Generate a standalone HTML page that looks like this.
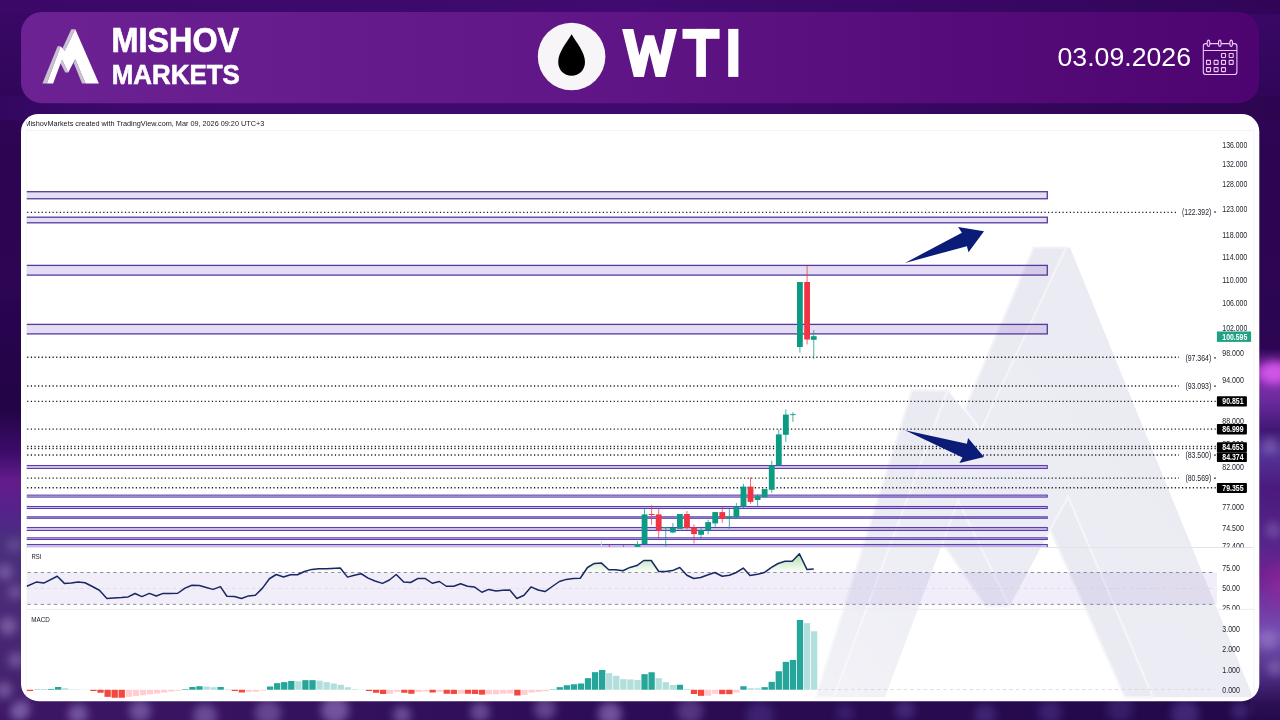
<!DOCTYPE html>
<html><head><meta charset="utf-8"><title>WTI</title>
<style>
html,body{margin:0;padding:0;}
body{width:1280px;height:720px;overflow:hidden;background:#2e0654;font-family:"Liberation Sans",sans-serif;}
svg{position:absolute;left:0;top:0;display:block;opacity:0.999;}
text{font-family:"Liberation Sans",sans-serif;}
</style></head><body>
<svg width="1280" height="720" viewBox="0 0 1280 720">
<defs>
<linearGradient id="bgTop" x1="0" y1="0" x2="1" y2="0"><stop offset="0" stop-color="#3b0868"/><stop offset="0.5" stop-color="#400a70"/><stop offset="1" stop-color="#300558"/></linearGradient>
<linearGradient id="bgGap" x1="0" y1="0" x2="1" y2="0"><stop offset="0" stop-color="#330760"/><stop offset="0.1" stop-color="#3c0a6c"/><stop offset="0.5" stop-color="#3f0a70"/><stop offset="0.85" stop-color="#320658"/><stop offset="1" stop-color="#2c0550"/></linearGradient>
<linearGradient id="bgV" x1="0" y1="0" x2="0" y2="1"><stop offset="0" stop-color="#3a0868"/><stop offset="0.2" stop-color="#2c0552"/><stop offset="0.5" stop-color="#2d0653"/><stop offset="1" stop-color="#2a0750"/></linearGradient>
<linearGradient id="hdr" x1="0" y1="0" x2="1" y2="0"><stop offset="0" stop-color="#6d2294"/><stop offset="0.45" stop-color="#601686"/><stop offset="1" stop-color="#4d0470"/></linearGradient>
<linearGradient id="rsiG" x1="0" y1="553" x2="0" y2="572.5" gradientUnits="userSpaceOnUse"><stop offset="0" stop-color="#7cc96a" stop-opacity="0.72"/><stop offset="1" stop-color="#a8dba0" stop-opacity="0.05"/></linearGradient>
<linearGradient id="wmFade" x1="800" y1="700" x2="1150" y2="380" gradientUnits="userSpaceOnUse"><stop offset="0" stop-color="#fff" stop-opacity="0.6"/><stop offset="0.45" stop-color="#fff" stop-opacity="0.92"/><stop offset="1" stop-color="#fff" stop-opacity="1"/></linearGradient>
<mask id="wmMask" maskUnits="userSpaceOnUse" x="700" y="200" width="600" height="520"><rect x="700" y="200" width="600" height="520" fill="url(#wmFade)"/></mask>
<linearGradient id="leftG" x1="0" y1="300" x2="0" y2="720" gradientUnits="userSpaceOnUse"><stop offset="0" stop-color="#290450"/><stop offset="0.26" stop-color="#230446"/><stop offset="0.36" stop-color="#3a0c68"/><stop offset="0.43" stop-color="#641c8c"/><stop offset="0.5" stop-color="#55228c"/><stop offset="0.58" stop-color="#48307c"/><stop offset="0.72" stop-color="#4c2a78"/><stop offset="0.95" stop-color="#43206c"/><stop offset="1" stop-color="#3d1766"/></linearGradient>
<linearGradient id="rightG" x1="0" y1="300" x2="0" y2="720" gradientUnits="userSpaceOnUse"><stop offset="0" stop-color="#2a0550"/><stop offset="0.115" stop-color="#2c0654"/><stop offset="0.17" stop-color="#8a30b2"/><stop offset="0.24" stop-color="#6a2a9c"/><stop offset="0.31" stop-color="#401874"/><stop offset="0.36" stop-color="#55349a"/><stop offset="0.45" stop-color="#4a1a7c"/><stop offset="0.58" stop-color="#55258a"/><stop offset="0.66" stop-color="#742292"/><stop offset="0.8" stop-color="#7550b4"/><stop offset="0.9" stop-color="#4a2a80"/><stop offset="0.96" stop-color="#2c1054"/><stop offset="1" stop-color="#240a4c"/></linearGradient>
<linearGradient id="botG" x1="0" y1="0" x2="1" y2="0"><stop offset="0" stop-color="#3d1766"/><stop offset="0.5" stop-color="#2c0c54"/><stop offset="1" stop-color="#22084a"/></linearGradient>
<filter id="blur8" x="-50%" y="-50%" width="200%" height="200%"><feGaussianBlur stdDeviation="8"/></filter>
<filter id="blur4" x="-50%" y="-50%" width="200%" height="200%"><feGaussianBlur stdDeviation="4"/></filter>
<filter id="blur14" x="-50%" y="-50%" width="200%" height="200%"><feGaussianBlur stdDeviation="14"/></filter>
<clipPath id="cardClip"><rect x="21" y="114" width="1238.3" height="587.2" rx="17.5" ry="17.5"/></clipPath>
<clipPath id="priceClip"><rect x="26.8" y="131" width="1229.2" height="416.3"/></clipPath>
<clipPath id="titleClip"><rect x="26.6" y="114" width="400" height="17"/></clipPath>
<clipPath id="rsiClip"><rect x="26" y="548" width="1230" height="61.4"/></clipPath>
<g id="logoMain"><polygon points="46.9,83.4 60.7,46.2 64.7,51.1 75.3,29.2 98.9,83.4 85.6,83.4 75.3,59.1 68.2,72.4 62,59.6 53.1,83.4"/></g>
<g id="logoShade"><polygon points="42.4,83.4 46.9,83.4 60.7,46.2 57.6,46.2"/><polygon points="71.3,29.2 75.3,29.2 64.7,51.1 62.4,48.4"/><polygon points="62,59.6 68.2,72.4 65.3,72.4 60.4,63.3"/><polygon points="75.3,59.1 85.6,83.4 82,83.4 73.7,63.1"/></g>
</defs>
<rect x="0" y="0" width="1280" height="720" fill="url(#bgV)"/>
<rect x="0" y="0" width="1280" height="14" fill="url(#bgTop)"/>
<rect x="0" y="96" width="1280" height="24" fill="url(#bgGap)"/>
<g id="bokeh">
<rect x="0" y="698" width="1280" height="22" fill="url(#botG)"/>
<rect x="-10" y="300" width="40" height="430" fill="url(#leftG)"/>
<circle cx="14" cy="545" r="7" fill="#a58ccb" opacity="0.30" filter="url(#blur4)"/>
<circle cx="5" cy="572" r="8" fill="#a58ccb" opacity="0.45" filter="url(#blur4)"/>
<circle cx="15" cy="592" r="7" fill="#a58ccb" opacity="0.40" filter="url(#blur4)"/>
<circle cx="8" cy="626" r="9" fill="#a58ccb" opacity="0.50" filter="url(#blur4)"/>
<circle cx="16" cy="660" r="8" fill="#a58ccb" opacity="0.45" filter="url(#blur4)"/>
<circle cx="4" cy="690" r="8" fill="#a58ccb" opacity="0.50" filter="url(#blur4)"/>
<circle cx="18" cy="713" r="8" fill="#a58ccb" opacity="0.45" filter="url(#blur4)"/>
<rect x="1250" y="300" width="40" height="430" fill="url(#rightG)"/>
<ellipse cx="1274" cy="373" rx="15" ry="11" fill="#d055e6" filter="url(#blur4)"/>
<ellipse cx="1282" cy="585" rx="9" ry="20" fill="#a02aa0" filter="url(#blur8)" opacity="0.6"/>
<circle cx="1270" cy="446" r="8" fill="#a58ccb" opacity="0.40" filter="url(#blur4)"/>
<circle cx="1273" cy="530" r="8" fill="#a58ccb" opacity="0.35" filter="url(#blur4)"/>
<circle cx="1268" cy="640" r="10" fill="#a58ccb" opacity="0.45" filter="url(#blur4)"/>
<circle cx="1275" cy="668" r="8" fill="#a58ccb" opacity="0.40" filter="url(#blur4)"/>
<circle cx="22" cy="709" r="9" fill="#8d6fb8" opacity="0.55" filter="url(#blur4)"/>
<circle cx="78" cy="714" r="10" fill="#8d6fb8" opacity="0.70" filter="url(#blur4)"/>
<circle cx="140" cy="711" r="11" fill="#8d6fb8" opacity="0.65" filter="url(#blur4)"/>
<circle cx="205" cy="716" r="12" fill="#8d6fb8" opacity="0.60" filter="url(#blur4)"/>
<circle cx="268" cy="713" r="13" fill="#8d6fb8" opacity="0.55" filter="url(#blur4)"/>
<circle cx="335" cy="710" r="14" fill="#8d6fb8" opacity="0.70" filter="url(#blur4)"/>
<circle cx="402" cy="715" r="9" fill="#8d6fb8" opacity="0.65" filter="url(#blur4)"/>
<circle cx="480" cy="712" r="10" fill="#8d6fb8" opacity="0.60" filter="url(#blur4)"/>
<circle cx="545" cy="709" r="11" fill="#8d6fb8" opacity="0.55" filter="url(#blur4)"/>
<circle cx="610" cy="714" r="12" fill="#8d6fb8" opacity="0.70" filter="url(#blur4)"/>
<circle cx="690" cy="711" r="13" fill="#8d6fb8" opacity="0.42" filter="url(#blur4)"/>
<circle cx="760" cy="716" r="14" fill="#5f4aa6" opacity="0.37" filter="url(#blur4)"/>
<circle cx="845" cy="713" r="9" fill="#5f4aa6" opacity="0.32" filter="url(#blur4)"/>
<circle cx="905" cy="710" r="10" fill="#5f4aa6" opacity="0.47" filter="url(#blur4)"/>
<circle cx="985" cy="715" r="11" fill="#5f4aa6" opacity="0.42" filter="url(#blur4)"/>
<circle cx="1050" cy="712" r="12" fill="#5f4aa6" opacity="0.37" filter="url(#blur4)"/>
<circle cx="1120" cy="709" r="13" fill="#5f4aa6" opacity="0.32" filter="url(#blur4)"/>
<circle cx="1185" cy="714" r="14" fill="#5f4aa6" opacity="0.47" filter="url(#blur4)"/>
<circle cx="1240" cy="711" r="9" fill="#5f4aa6" opacity="0.42" filter="url(#blur4)"/>
</g>
<rect x="21" y="12" width="1238" height="91.2" rx="21" ry="21" fill="url(#hdr)"/>
<use href="#logoShade" fill="#c7c2ce"/>
<use href="#logoMain" fill="#ffffff"/>
<text x="111.6" y="52" font-size="34.2" font-weight="bold" fill="#fff" stroke="#fff" stroke-width="0.7" textLength="127.6" lengthAdjust="spacingAndGlyphs">MISHOV</text>
<text x="111.8" y="83.8" font-size="27" font-weight="bold" fill="#fff" stroke="#fff" stroke-width="0.6" textLength="128" lengthAdjust="spacingAndGlyphs">MARKETS</text>
<circle cx="571.6" cy="56.5" r="33.8" fill="#f7f5f7"/>
<path d="M571.6 34.2 C 576 42, 585 52, 585 62 C 585 70, 579 75.8, 571.6 75.8 C 564.2 75.8, 558.2 70, 558.2 62 C 558.2 52, 567.2 42, 571.6 34.2 Z" fill="#000"/>
<g fill="#fff">
<polygon points="622.1,28.9 633.3,28.9 639.4,55.5 645,35.2 654.1,35.2 660.2,55.5 665.8,28.9 677,28.9 665.3,76.9 655.6,76.9 649.5,52.5 643.9,76.9 633.8,76.9"/>
<rect x="682.5" y="28.9" width="37.1" height="9.9"/><rect x="696.25" y="28.9" width="9.65" height="48"/>
<rect x="728.2" y="28.9" width="10.2" height="48"/>
</g>
<text x="1057.5" y="65.6" font-size="26" fill="#fff" textLength="133.5" lengthAdjust="spacingAndGlyphs">03.09.2026</text>
<g fill="none" stroke="#ecc9f7" stroke-width="1.1">
<rect x="1203.3" y="43.6" width="33.6" height="30.9" rx="2.6"/>
<line x1="1203.3" y1="50.5" x2="1236.9" y2="50.5"/>
<ellipse cx="1208.5" cy="43.3" rx="1.35" ry="3.2" fill="#5a0e7c"/>
<ellipse cx="1219.8" cy="43.3" rx="1.35" ry="3.2" fill="#5a0e7c"/>
<ellipse cx="1231.2" cy="43.3" rx="1.35" ry="3.2" fill="#5a0e7c"/>
<rect x="1221.5" y="53.5" width="4" height="4" rx="0.5"/>
<rect x="1229.2" y="53.5" width="4" height="4" rx="0.5"/>
<rect x="1206.5" y="60.4" width="4" height="4" rx="0.5"/>
<rect x="1214.1" y="60.4" width="4" height="4" rx="0.5"/>
<rect x="1221.5" y="60.4" width="4" height="4" rx="0.5"/>
<rect x="1229.2" y="60.4" width="4" height="4" rx="0.5"/>
<rect x="1206.5" y="67.6" width="4" height="4" rx="0.5"/>
<rect x="1214.1" y="67.6" width="4" height="4" rx="0.5"/>
<rect x="1221.5" y="67.6" width="4" height="4" rx="0.5"/>
</g>
<rect x="21" y="114" width="1238.3" height="587.2" rx="17.5" ry="17.5" fill="#ffffff"/>
<g clip-path="url(#cardClip)">
<g stroke-width="1" fill="none">
<line x1="26.5" y1="130.5" x2="1254" y2="130.5" stroke="#f3f3f5"/>
<line x1="26.5" y1="130.5" x2="26.5" y2="700" stroke="#f7f7f9"/>
<line x1="1254" y1="130.5" x2="1254" y2="700" stroke="#f5f5f7"/>
</g>
<g mask="url(#wmMask)">
<polygon fill="#ebebf3" points="833.7,697.2 947.6,390.3 980.6,430.7 1066,247.5 1070,247.5 1253,697.2 1153,697.2 1068,496.7 1009.4,606.4 958.3,500.8 884.9,697.2"/>
<g fill="#e9e9f2" stroke="#f3f3f9" stroke-width="2.2">
<polygon points="816,697.2 833.7,697.2 947.6,390.3 912,390.3"/>
<polygon points="1033.75,247.5 1066,247.5 980.6,430.7 965,408.4"/>
<polygon points="958.3,500.8 1009.4,606.4 986,606.4 942.5,543"/>
<polygon points="1068,496.7 1153,697.2 1125,697.2 1050.2,530"/>
</g>
</g>
<text clip-path="url(#titleClip)" x="24.4" y="126" font-size="8" fill="#131722" textLength="239.8" lengthAdjust="spacingAndGlyphs">MishovMarkets created with TradingView.com, Mar 09, 2026 09:20 UTC+3</text>
<g clip-path="url(#priceClip)">
<rect x="20" y="191.7" width="1027.3" height="7.05" fill="#7e57c2" fill-opacity="0.2" stroke="#563a9c" stroke-width="1.3"/>
<rect x="20" y="217.2" width="1027.3" height="5.6" fill="#7e57c2" fill-opacity="0.2" stroke="#563a9c" stroke-width="1.3"/>
<rect x="20" y="265.4" width="1027.3" height="9.7" fill="#7e57c2" fill-opacity="0.2" stroke="#563a9c" stroke-width="1.3"/>
<rect x="20" y="324.4" width="1027.3" height="9.5" fill="#7e57c2" fill-opacity="0.2" stroke="#563a9c" stroke-width="1.3"/>
<rect x="20" y="465.5" width="1027.3" height="3" fill="#7e57c2" fill-opacity="0.38" stroke="#5b3fb2" stroke-width="1.05"/>
<rect x="20" y="495.1" width="1027.3" height="2" fill="#7e57c2" fill-opacity="0.38" stroke="#5b3fb2" stroke-width="1.05"/>
<rect x="20" y="506.5" width="1027.3" height="2" fill="#7e57c2" fill-opacity="0.38" stroke="#5b3fb2" stroke-width="1.05"/>
<rect x="20" y="516.8" width="1027.3" height="1.5" fill="#7e57c2" fill-opacity="0.38" stroke="#5b3fb2" stroke-width="1.05"/>
<rect x="20" y="527.5" width="1027.3" height="3" fill="#7e57c2" fill-opacity="0.38" stroke="#5b3fb2" stroke-width="1.05"/>
<rect x="20" y="537.8" width="1027.3" height="1.7" fill="#7e57c2" fill-opacity="0.38" stroke="#5b3fb2" stroke-width="1.05"/>
<rect x="20" y="544.5" width="1027.3" height="3" fill="#7e57c2" fill-opacity="0.38" stroke="#5b3fb2" stroke-width="1.05"/>
<line x1="27.2" y1="212.3" x2="1176" y2="212.3" stroke="#1a1a1a" stroke-width="1.35" stroke-dasharray="1.2 2.42"/>
<line x1="27.2" y1="357.25" x2="1179" y2="357.25" stroke="#1a1a1a" stroke-width="1.35" stroke-dasharray="1.2 2.42"/>
<line x1="27.2" y1="386" x2="1179" y2="386" stroke="#1a1a1a" stroke-width="1.35" stroke-dasharray="1.2 2.42"/>
<line x1="27.2" y1="401.3" x2="1216" y2="401.3" stroke="#1a1a1a" stroke-width="1.35" stroke-dasharray="1.2 2.42"/>
<line x1="27.2" y1="429.1" x2="1216" y2="429.1" stroke="#1a1a1a" stroke-width="1.35" stroke-dasharray="1.2 2.42"/>
<line x1="27.2" y1="446.5" x2="1216" y2="446.5" stroke="#1a1a1a" stroke-width="1.35" stroke-dasharray="1.2 2.42"/>
<line x1="27.2" y1="448.6" x2="1216" y2="448.6" stroke="#1a1a1a" stroke-width="1.35" stroke-dasharray="1.2 2.42"/>
<line x1="27.2" y1="455" x2="1179" y2="455" stroke="#1a1a1a" stroke-width="1.35" stroke-dasharray="1.2 2.42"/>
<line x1="27.2" y1="478.1" x2="1179" y2="478.1" stroke="#1a1a1a" stroke-width="1.35" stroke-dasharray="1.2 2.42"/>
<line x1="27.2" y1="487.75" x2="1216" y2="487.75" stroke="#1a1a1a" stroke-width="1.35" stroke-dasharray="1.2 2.42"/>
<line x1="637.49" y1="541" x2="637.49" y2="546.8" stroke="#0c9a82" stroke-width="0.75"/>
<rect x="634.59" y="544" width="5.8" height="2.8" fill="#0c9a82"/>
<line x1="644.56" y1="509" x2="644.56" y2="544" stroke="#0c9a82" stroke-width="0.75"/>
<rect x="641.66" y="514.4" width="5.8" height="29.6" fill="#0c9a82"/>
<line x1="651.62" y1="505.2" x2="651.62" y2="524.8" stroke="#f03446" stroke-width="0.75"/>
<rect x="648.72" y="514" width="5.8" height="1" fill="#f03446"/>
<line x1="658.69" y1="509" x2="658.69" y2="538.8" stroke="#f03446" stroke-width="0.75"/>
<rect x="655.79" y="514.4" width="5.8" height="16.2" fill="#f03446"/>
<line x1="665.75" y1="527.2" x2="665.75" y2="546.6" stroke="#0c9a82" stroke-width="0.75"/>
<rect x="662.85" y="527.2" width="5.8" height="0.9" fill="#0c9a82"/>
<line x1="672.82" y1="523.1" x2="672.82" y2="533.2" stroke="#0c9a82" stroke-width="0.75"/>
<rect x="669.92" y="527.9" width="5.8" height="4.6" fill="#0c9a82"/>
<line x1="679.88" y1="514" x2="679.88" y2="528.8" stroke="#0c9a82" stroke-width="0.75"/>
<rect x="676.98" y="514" width="5.8" height="14.8" fill="#0c9a82"/>
<line x1="686.95" y1="511" x2="686.95" y2="529.4" stroke="#f03446" stroke-width="0.75"/>
<rect x="684.05" y="514" width="5.8" height="13.9" fill="#f03446"/>
<line x1="694.01" y1="524.4" x2="694.01" y2="543.5" stroke="#f03446" stroke-width="0.75"/>
<rect x="691.11" y="527.5" width="5.8" height="6.6" fill="#f03446"/>
<line x1="701.08" y1="527.5" x2="701.08" y2="539" stroke="#0c9a82" stroke-width="0.75"/>
<rect x="698.18" y="530.2" width="5.8" height="4.6" fill="#0c9a82"/>
<line x1="708.14" y1="519.8" x2="708.14" y2="534.4" stroke="#0c9a82" stroke-width="0.75"/>
<rect x="705.24" y="522.1" width="5.8" height="8.1" fill="#0c9a82"/>
<line x1="715.21" y1="512.1" x2="715.21" y2="526.9" stroke="#0c9a82" stroke-width="0.75"/>
<rect x="712.31" y="512.1" width="5.8" height="11.3" fill="#0c9a82"/>
<line x1="722.27" y1="506.5" x2="722.27" y2="522.9" stroke="#f03446" stroke-width="0.75"/>
<rect x="719.37" y="512.1" width="5.8" height="6.7" fill="#f03446"/>
<line x1="729.34" y1="508.8" x2="729.34" y2="528.8" stroke="#0c9a82" stroke-width="0.75"/>
<rect x="726.44" y="516.9" width="5.8" height="1.6" fill="#0c9a82"/>
<line x1="736.4" y1="503.1" x2="736.4" y2="518.5" stroke="#0c9a82" stroke-width="0.75"/>
<rect x="733.5" y="506.5" width="5.8" height="11" fill="#0c9a82"/>
<line x1="743.47" y1="483.8" x2="743.47" y2="508.1" stroke="#0c9a82" stroke-width="0.75"/>
<rect x="740.57" y="486.6" width="5.8" height="19.9" fill="#0c9a82"/>
<line x1="750.53" y1="477.5" x2="750.53" y2="503.8" stroke="#f03446" stroke-width="0.75"/>
<rect x="747.63" y="486.6" width="5.8" height="15.3" fill="#f03446"/>
<line x1="757.6" y1="494.4" x2="757.6" y2="506.2" stroke="#0c9a82" stroke-width="0.75"/>
<rect x="754.7" y="496.2" width="5.8" height="3.8" fill="#0c9a82"/>
<line x1="764.66" y1="489.1" x2="764.66" y2="497.1" stroke="#0c9a82" stroke-width="0.75"/>
<rect x="761.76" y="489.1" width="5.8" height="8" fill="#0c9a82"/>
<line x1="771.73" y1="460.6" x2="771.73" y2="492.8" stroke="#0c9a82" stroke-width="0.75"/>
<rect x="768.83" y="465.6" width="5.8" height="24.2" fill="#0c9a82"/>
<line x1="778.79" y1="429.4" x2="778.79" y2="465.4" stroke="#0c9a82" stroke-width="0.75"/>
<rect x="775.89" y="434.4" width="5.8" height="31" fill="#0c9a82"/>
<line x1="785.86" y1="409.4" x2="785.86" y2="441.9" stroke="#0c9a82" stroke-width="0.75"/>
<rect x="782.96" y="414.6" width="5.8" height="20.2" fill="#0c9a82"/>
<line x1="792.92" y1="412.2" x2="792.92" y2="421.9" stroke="#0c9a82" stroke-width="0.75"/>
<rect x="790.02" y="414.2" width="5.8" height="0.9" fill="#0c9a82"/>
<line x1="799.9" y1="282" x2="799.9" y2="352.5" stroke="#0c9a82" stroke-width="0.75"/>
<rect x="797" y="282" width="5.8" height="65" fill="#0c9a82"/>
<line x1="807.1" y1="265.8" x2="807.1" y2="344.5" stroke="#f03446" stroke-width="0.75"/>
<rect x="804.2" y="282" width="5.8" height="57.5" fill="#f03446"/>
<line x1="813.75" y1="330" x2="813.75" y2="358.8" stroke="#0c9a82" stroke-width="0.75"/>
<rect x="810.85" y="336.2" width="5.8" height="3.6" fill="#0c9a82"/>
<line x1="601.3" y1="541" x2="601.3" y2="546.5" stroke="#bfe3d8" stroke-width="1"/>
<line x1="609.4" y1="545.3" x2="609.4" y2="547" stroke="#f03446" stroke-width="1"/>
<line x1="623.6" y1="545.3" x2="623.6" y2="547" stroke="#7b5ab0" stroke-width="1"/>
</g>
<polygon points="905,262.9 961.9,232.75 958.1,227.1 984,231.25 968.5,252.25 966.9,246.25" fill="#0b1b78"/>
<polygon points="905,430.25 966.9,443.75 968.1,437.9 984,456.9 959.4,462.9 962.5,457.5" fill="#0b1b78"/>
<line x1="26.5" y1="547.5" x2="1254" y2="547.5" stroke="#e3e3ea" stroke-width="1"/>
<line x1="26.5" y1="609.4" x2="1254" y2="609.4" stroke="#ededf1" stroke-width="1"/>
<rect x="27" y="572.5" width="1190" height="31.9" fill="#7e57c2" fill-opacity="0.105"/>
<g stroke-dasharray="3.3 3.3" stroke-width="0.9" fill="none">
<line x1="27.5" y1="572.5" x2="1215.5" y2="572.5" stroke="#828294"/>
<line x1="27.5" y1="604.4" x2="1215.5" y2="604.4" stroke="#828294"/>
<line x1="27.5" y1="588.5" x2="1215.5" y2="588.5" stroke="#c9c6d6" stroke-opacity="0.45"/>
</g>
<polygon points="26.9,572.5 36.25,572.5 43.75,572.5 57.25,572.5 64.4,572.5 71.25,572.5 78.1,572.5 85,572.5 91.9,572.5 99.4,572.5 106.9,572.5 113.75,572.5 121.25,572.5 128.1,572.5 135,572.5 141.9,572.5 149.4,572.5 156.25,572.5 163.1,572.5 170,572.5 177.75,572.5 185,572.5 191.9,572.5 199.4,572.5 206.25,572.5 213.1,572.5 220.4,572.5 226.9,572.5 234.4,572.5 241.5,572.5 248.5,572.5 255.4,572.5 262.5,572.5 269.4,572.5 276.25,572.5 283.5,572.5 290.6,572.5 297.5,572.5 304.4,571.5 311.9,569.4 318.75,568.75 326.25,568.75 340.25,568 347.5,572.5 354.4,572.5 361.25,572.5 368.1,572.5 375,572.5 382.5,572.5 389.4,572.5 396.25,572.5 403.75,572.5 410.6,572.5 418.1,572.5 425,572.5 432.25,572.5 439.4,572.5 446.25,572.5 453.75,572.5 460.6,572.5 467.5,572.5 474.6,572.5 481.9,572.5 488.75,572.5 496,572.5 502.75,572.5 509.75,572.5 516.9,572.5 524,572.5 531,572.5 538.1,572.5 545,572.5 552.25,572.5 559.4,572.5 566.25,572.5 573.1,572.5 580.25,572.5 587.5,567.5 594.4,563.4 601.5,563.1 608.75,569.75 615.6,569.75 622.9,570.8 630,567.4 636.9,565.6 643.75,560.5 651.25,560.5 658.75,571.5 665.6,571.5 672.5,570.6 679.75,567.5 686.9,572.5 693.75,572.5 700.6,572.5 707.5,572.5 714.75,572.5 722.25,572.5 729.4,572.5 736.25,572.5 743.3,568.1 750,572.5 757.5,572.5 764.2,572.5 771.5,567.4 778.1,563.5 785,561.25 792.25,561.25 799.4,553.75 806.9,569.4 813.75,569.1 813.75,572.5 26.9,572.5" fill="url(#rsiG)"/>
<polyline points="26.9,586.25 36.25,582.1 43.75,583.1 57.25,576.25 64.4,583.4 71.25,583.1 78.1,582 85,582.75 91.9,586.25 99.4,590.25 106.9,598.4 113.75,597.9 121.25,597.5 128.1,596.9 135,593.5 141.9,596.6 149.4,593.4 156.25,596 163.1,593.4 170,593.4 177.75,593.25 185,588.1 191.9,585.25 199.4,585.5 206.25,587.5 213.1,589.4 220.4,586.6 226.9,596.25 234.4,596.5 241.5,598.5 248.5,595.9 255.4,595.25 262.5,588.1 269.4,578.75 276.25,574.5 283.5,577 290.6,574.75 297.5,574.75 304.4,571.5 311.9,569.4 318.75,568.75 326.25,568.75 340.25,568 347.5,577.1 354.4,575.25 361.25,573.75 368.1,578.1 375,581 382.5,583.4 389.4,580 396.25,574.5 403.75,582 410.6,582.5 418.1,578.4 425,578.4 432.25,583.25 439.4,581.5 446.25,586.25 453.75,586.25 460.6,583.75 467.5,586.25 474.6,587.1 481.9,592.25 488.75,589.4 496,591 502.75,590.25 509.75,590 516.9,598.5 524,595.25 531,586.9 538.1,590 545,591.6 552.25,586.5 559.4,581.5 566.25,579.4 573.1,578.5 580.25,578.25 587.5,567.5 594.4,563.4 601.5,563.1 608.75,569.75 615.6,569.75 622.9,570.8 630,567.4 636.9,565.6 643.75,560.5 651.25,560.5 658.75,571.5 665.6,571.5 672.5,570.6 679.75,567.5 686.9,575.25 693.75,578.5 700.6,577.5 707.5,575 714.75,572.5 722.25,576.25 729.4,575.25 736.25,572.5 743.3,568.1 750,575.4 757.5,574.2 764.2,572.6 771.5,567.4 778.1,563.5 785,561.25 792.25,561.25 799.4,553.75 806.9,569.4 813.75,569.1" fill="none" stroke="#182862" stroke-width="1.5" stroke-linejoin="round"/>
<text x="31.4" y="559.3" font-size="6.9" fill="#131722" textLength="10" lengthAdjust="spacingAndGlyphs">RSI</text>
<text x="31.2" y="621.6" font-size="6.9" fill="#131722" textLength="18.6" lengthAdjust="spacingAndGlyphs">MACD</text>
<rect x="26.75" y="689.75" width="6.3" height="1.3" fill="#f4483f"/>
<rect x="33.81" y="689.45" width="6.3" height="0.3" fill="#26a69a"/>
<rect x="40.88" y="689.45" width="6.3" height="0.3" fill="#26a69a"/>
<rect x="47.95" y="688.95" width="6.3" height="0.8" fill="#26a69a"/>
<rect x="55.01" y="687" width="6.3" height="2.75" fill="#26a69a"/>
<rect x="62.07" y="688.25" width="6.3" height="1.5" fill="#b2dfdb"/>
<rect x="69.14" y="689.35" width="6.3" height="0.4" fill="#b2dfdb"/>
<rect x="76.2" y="689.45" width="6.3" height="0.3" fill="#b2dfdb"/>
<rect x="83.27" y="689.55" width="6.3" height="0.2" fill="#b2dfdb"/>
<rect x="90.33" y="689.75" width="6.3" height="1.25" fill="#f4483f"/>
<rect x="97.4" y="689.75" width="6.3" height="3" fill="#f4483f"/>
<rect x="104.47" y="689.75" width="6.3" height="7.1" fill="#f4483f"/>
<rect x="111.53" y="689.75" width="6.3" height="8" fill="#f4483f"/>
<rect x="118.59" y="689.75" width="6.3" height="8" fill="#f4483f"/>
<rect x="125.66" y="689.75" width="6.3" height="7.1" fill="#ffcdd2"/>
<rect x="132.72" y="689.75" width="6.3" height="6.25" fill="#ffcdd2"/>
<rect x="139.79" y="689.75" width="6.3" height="5.5" fill="#ffcdd2"/>
<rect x="146.85" y="689.75" width="6.3" height="4.6" fill="#ffcdd2"/>
<rect x="153.92" y="689.75" width="6.3" height="3.75" fill="#ffcdd2"/>
<rect x="160.99" y="689.75" width="6.3" height="2.75" fill="#ffcdd2"/>
<rect x="168.05" y="689.75" width="6.3" height="1.75" fill="#ffcdd2"/>
<rect x="175.12" y="689.75" width="6.3" height="1" fill="#ffcdd2"/>
<rect x="182.18" y="689.15" width="6.3" height="0.6" fill="#26a69a"/>
<rect x="189.25" y="687" width="6.3" height="2.75" fill="#26a69a"/>
<rect x="196.31" y="686.25" width="6.3" height="3.5" fill="#26a69a"/>
<rect x="203.38" y="686.5" width="6.3" height="3.25" fill="#b2dfdb"/>
<rect x="210.44" y="687.25" width="6.3" height="2.5" fill="#b2dfdb"/>
<rect x="217.51" y="687" width="6.3" height="2.75" fill="#26a69a"/>
<rect x="224.57" y="689.25" width="6.3" height="0.5" fill="#b2dfdb"/>
<rect x="231.64" y="689.75" width="6.3" height="1.25" fill="#f4483f"/>
<rect x="238.7" y="689.75" width="6.3" height="2.75" fill="#f4483f"/>
<rect x="245.77" y="689.75" width="6.3" height="2.1" fill="#ffcdd2"/>
<rect x="252.83" y="689.75" width="6.3" height="2" fill="#ffcdd2"/>
<rect x="259.9" y="689.75" width="6.3" height="0.9" fill="#ffcdd2"/>
<rect x="266.96" y="686.5" width="6.3" height="3.25" fill="#26a69a"/>
<rect x="274.03" y="683.15" width="6.3" height="6.6" fill="#26a69a"/>
<rect x="281.09" y="682.15" width="6.3" height="7.6" fill="#26a69a"/>
<rect x="288.16" y="681" width="6.3" height="8.75" fill="#26a69a"/>
<rect x="295.22" y="681.25" width="6.3" height="8.5" fill="#b2dfdb"/>
<rect x="302.29" y="680.15" width="6.3" height="9.6" fill="#26a69a"/>
<rect x="309.35" y="680.15" width="6.3" height="9.6" fill="#26a69a"/>
<rect x="316.42" y="680.65" width="6.3" height="9.1" fill="#b2dfdb"/>
<rect x="323.48" y="682.15" width="6.3" height="7.6" fill="#b2dfdb"/>
<rect x="330.55" y="683.5" width="6.3" height="6.25" fill="#b2dfdb"/>
<rect x="337.61" y="684.75" width="6.3" height="5" fill="#b2dfdb"/>
<rect x="344.68" y="687.25" width="6.3" height="2.5" fill="#b2dfdb"/>
<rect x="351.74" y="689.15" width="6.3" height="0.6" fill="#b2dfdb"/>
<rect x="358.81" y="689.55" width="6.3" height="0.2" fill="#b2dfdb"/>
<rect x="365.87" y="689.75" width="6.3" height="1.25" fill="#f4483f"/>
<rect x="372.94" y="689.75" width="6.3" height="3" fill="#f4483f"/>
<rect x="380" y="689.75" width="6.3" height="4.25" fill="#f4483f"/>
<rect x="387.06" y="689.75" width="6.3" height="4" fill="#ffcdd2"/>
<rect x="394.13" y="689.75" width="6.3" height="2.1" fill="#ffcdd2"/>
<rect x="401.19" y="689.75" width="6.3" height="3" fill="#f4483f"/>
<rect x="408.26" y="689.75" width="6.3" height="4" fill="#f4483f"/>
<rect x="415.33" y="689.75" width="6.3" height="2.25" fill="#ffcdd2"/>
<rect x="422.39" y="689.75" width="6.3" height="1.75" fill="#ffcdd2"/>
<rect x="429.46" y="689.75" width="6.3" height="2.75" fill="#f4483f"/>
<rect x="436.52" y="689.75" width="6.3" height="2.1" fill="#ffcdd2"/>
<rect x="443.59" y="689.75" width="6.3" height="4" fill="#f4483f"/>
<rect x="450.65" y="689.75" width="6.3" height="4.25" fill="#f4483f"/>
<rect x="457.72" y="689.75" width="6.3" height="4" fill="#ffcdd2"/>
<rect x="464.78" y="689.75" width="6.3" height="4" fill="#f4483f"/>
<rect x="471.85" y="689.75" width="6.3" height="4.25" fill="#f4483f"/>
<rect x="478.91" y="689.75" width="6.3" height="4.9" fill="#f4483f"/>
<rect x="485.98" y="689.75" width="6.3" height="4.6" fill="#ffcdd2"/>
<rect x="493.04" y="689.75" width="6.3" height="4.6" fill="#ffcdd2"/>
<rect x="500.11" y="689.75" width="6.3" height="4" fill="#ffcdd2"/>
<rect x="507.17" y="689.75" width="6.3" height="3.75" fill="#ffcdd2"/>
<rect x="514.24" y="689.75" width="6.3" height="5.75" fill="#f4483f"/>
<rect x="521.3" y="689.75" width="6.3" height="5.25" fill="#ffcdd2"/>
<rect x="528.37" y="689.75" width="6.3" height="2.75" fill="#ffcdd2"/>
<rect x="535.43" y="689.75" width="6.3" height="2.1" fill="#ffcdd2"/>
<rect x="542.5" y="689.75" width="6.3" height="1.5" fill="#ffcdd2"/>
<rect x="549.56" y="689.35" width="6.3" height="0.4" fill="#26a69a"/>
<rect x="556.62" y="687.15" width="6.3" height="2.6" fill="#26a69a"/>
<rect x="563.69" y="685.25" width="6.3" height="4.5" fill="#26a69a"/>
<rect x="570.75" y="684.25" width="6.3" height="5.5" fill="#26a69a"/>
<rect x="577.82" y="683.5" width="6.3" height="6.25" fill="#26a69a"/>
<rect x="584.88" y="678.15" width="6.3" height="11.6" fill="#26a69a"/>
<rect x="591.95" y="672.15" width="6.3" height="17.6" fill="#26a69a"/>
<rect x="599.01" y="670" width="6.3" height="19.75" fill="#26a69a"/>
<rect x="606.08" y="673.15" width="6.3" height="16.6" fill="#b2dfdb"/>
<rect x="613.14" y="675.85" width="6.3" height="13.9" fill="#b2dfdb"/>
<rect x="620.21" y="679.15" width="6.3" height="10.6" fill="#b2dfdb"/>
<rect x="627.27" y="679.45" width="6.3" height="10.3" fill="#b2dfdb"/>
<rect x="634.34" y="680" width="6.3" height="9.75" fill="#b2dfdb"/>
<rect x="641.41" y="674.15" width="6.3" height="15.6" fill="#26a69a"/>
<rect x="648.47" y="672.25" width="6.3" height="17.5" fill="#26a69a"/>
<rect x="655.54" y="678.15" width="6.3" height="11.6" fill="#b2dfdb"/>
<rect x="662.6" y="682.15" width="6.3" height="7.6" fill="#b2dfdb"/>
<rect x="669.67" y="685" width="6.3" height="4.75" fill="#b2dfdb"/>
<rect x="676.73" y="684.75" width="6.3" height="5" fill="#26a69a"/>
<rect x="683.8" y="689" width="6.3" height="0.75" fill="#b2dfdb"/>
<rect x="690.86" y="689.75" width="6.3" height="4.25" fill="#f4483f"/>
<rect x="697.93" y="689.75" width="6.3" height="6.1" fill="#f4483f"/>
<rect x="704.99" y="689.75" width="6.3" height="5.9" fill="#ffcdd2"/>
<rect x="712.06" y="689.75" width="6.3" height="4" fill="#ffcdd2"/>
<rect x="719.12" y="689.75" width="6.3" height="4.4" fill="#f4483f"/>
<rect x="726.19" y="689.75" width="6.3" height="4.4" fill="#f4483f"/>
<rect x="733.25" y="689.75" width="6.3" height="2.75" fill="#ffcdd2"/>
<rect x="740.32" y="686.25" width="6.3" height="3.5" fill="#26a69a"/>
<rect x="747.38" y="688.15" width="6.3" height="1.6" fill="#b2dfdb"/>
<rect x="754.45" y="688.35" width="6.3" height="1.4" fill="#b2dfdb"/>
<rect x="761.51" y="687.15" width="6.3" height="2.6" fill="#26a69a"/>
<rect x="768.58" y="681.85" width="6.3" height="7.9" fill="#26a69a"/>
<rect x="775.64" y="671.25" width="6.3" height="18.5" fill="#26a69a"/>
<rect x="782.71" y="661.85" width="6.3" height="27.9" fill="#26a69a"/>
<rect x="789.77" y="660" width="6.3" height="29.75" fill="#26a69a"/>
<rect x="796.84" y="620" width="6.3" height="69.75" fill="#26a69a"/>
<rect x="803.9" y="623.15" width="6.3" height="66.6" fill="#b2dfdb"/>
<rect x="810.97" y="631.25" width="6.3" height="58.5" fill="#b2dfdb"/>
<line x1="818" y1="689.5" x2="1215" y2="689.5" stroke="#d4d4dc" stroke-width="0.8" stroke-dasharray="3.3 3.3"/>
<text x="1222.3" y="148" font-size="8.4" fill="#1b1e2a" textLength="25" lengthAdjust="spacingAndGlyphs">136.000</text>
<text x="1222.3" y="167" font-size="8.4" fill="#1b1e2a" textLength="25" lengthAdjust="spacingAndGlyphs">132.000</text>
<text x="1222.3" y="186.5" font-size="8.4" fill="#1b1e2a" textLength="25" lengthAdjust="spacingAndGlyphs">128.000</text>
<text x="1222.3" y="212.1" font-size="8.4" fill="#1b1e2a" textLength="25" lengthAdjust="spacingAndGlyphs">123.000</text>
<text x="1222.3" y="238" font-size="8.4" fill="#1b1e2a" textLength="25" lengthAdjust="spacingAndGlyphs">118.000</text>
<text x="1222.3" y="260.25" font-size="8.4" fill="#1b1e2a" textLength="25" lengthAdjust="spacingAndGlyphs">114.000</text>
<text x="1222.3" y="283" font-size="8.4" fill="#1b1e2a" textLength="25" lengthAdjust="spacingAndGlyphs">110.000</text>
<text x="1222.3" y="306.1" font-size="8.4" fill="#1b1e2a" textLength="25" lengthAdjust="spacingAndGlyphs">106.000</text>
<text x="1222.3" y="330.5" font-size="8.4" fill="#1b1e2a" textLength="25" lengthAdjust="spacingAndGlyphs">102.000</text>
<text x="1222.3" y="356.1" font-size="8.4" fill="#1b1e2a" textLength="21.5" lengthAdjust="spacingAndGlyphs">98.000</text>
<text x="1222.3" y="383" font-size="8.4" fill="#1b1e2a" textLength="21.5" lengthAdjust="spacingAndGlyphs">94.000</text>
<text x="1222.3" y="424.25" font-size="8.4" fill="#1b1e2a" textLength="21.5" lengthAdjust="spacingAndGlyphs">88.000</text>
<text x="1222.3" y="447.4" font-size="8.4" fill="#1b1e2a" textLength="21.5" lengthAdjust="spacingAndGlyphs">85.000</text>
<text x="1222.3" y="470.25" font-size="8.4" fill="#1b1e2a" textLength="21.5" lengthAdjust="spacingAndGlyphs">82.000</text>
<text x="1222.3" y="510.25" font-size="8.4" fill="#1b1e2a" textLength="21.5" lengthAdjust="spacingAndGlyphs">77.000</text>
<text x="1222.3" y="530.75" font-size="8.4" fill="#1b1e2a" textLength="21.5" lengthAdjust="spacingAndGlyphs">74.500</text>
<text x="1222.3" y="571.1" font-size="8.4" fill="#1b1e2a" textLength="17.6" lengthAdjust="spacingAndGlyphs">75.00</text>
<text x="1222.3" y="591.1" font-size="8.4" fill="#1b1e2a" textLength="17.6" lengthAdjust="spacingAndGlyphs">50.00</text>
<text x="1222.3" y="632.4" font-size="8.4" fill="#1b1e2a" textLength="17.6" lengthAdjust="spacingAndGlyphs">3.000</text>
<text x="1222.3" y="652.4" font-size="8.4" fill="#1b1e2a" textLength="17.6" lengthAdjust="spacingAndGlyphs">2.000</text>
<text x="1222.3" y="673" font-size="8.4" fill="#1b1e2a" textLength="17.6" lengthAdjust="spacingAndGlyphs">1.000</text>
<text x="1222.3" y="693" font-size="8.4" fill="#1b1e2a" textLength="17.6" lengthAdjust="spacingAndGlyphs">0.000</text>
<g clip-path="url(#priceClip)"><text x="1222.3" y="548.6" font-size="8.4" fill="#1b1e2a" textLength="21.5" lengthAdjust="spacingAndGlyphs">72.400</text></g>
<g clip-path="url(#rsiClip)"><text x="1222.3" y="610.5" font-size="8.4" fill="#1b1e2a" textLength="17.6" lengthAdjust="spacingAndGlyphs">25.00</text></g>
<text x="1181.9" y="214.9" font-size="8.4" fill="#1b1e2a" textLength="29.4" lengthAdjust="spacingAndGlyphs">(122.392)</text>
<rect x="1214.3" y="211.3" width="1.4" height="1.4" fill="#111"/>
<text x="1185.4" y="360.75" font-size="8.4" fill="#1b1e2a" textLength="25.9" lengthAdjust="spacingAndGlyphs">(97.364)</text>
<rect x="1214.3" y="357.15" width="1.4" height="1.4" fill="#111"/>
<text x="1185.4" y="389" font-size="8.4" fill="#1b1e2a" textLength="25.9" lengthAdjust="spacingAndGlyphs">(93.093)</text>
<rect x="1214.3" y="385.4" width="1.4" height="1.4" fill="#111"/>
<text x="1185.4" y="458" font-size="8.4" fill="#1b1e2a" textLength="25.9" lengthAdjust="spacingAndGlyphs">(83.500)</text>
<rect x="1214.3" y="454.4" width="1.4" height="1.4" fill="#111"/>
<text x="1185.4" y="481.1" font-size="8.4" fill="#1b1e2a" textLength="25.9" lengthAdjust="spacingAndGlyphs">(80.569)</text>
<rect x="1214.3" y="477.5" width="1.4" height="1.4" fill="#111"/>
<rect x="1216.9" y="331.5" width="34.2" height="10.4" fill="#1fa184"/>
<text x="1222.3" y="340" font-size="8.4" fill="#fff" font-weight="bold" textLength="25" lengthAdjust="spacingAndGlyphs">100.595</text>
<rect x="1216.9" y="396.25" width="30" height="10.35" rx="0.8" fill="#000"/>
<text x="1222.3" y="404.43" font-size="8.4" fill="#fff" font-weight="bold" textLength="21.3" lengthAdjust="spacingAndGlyphs">90.851</text>
<rect x="1216.9" y="424" width="30" height="10.4" rx="0.8" fill="#000"/>
<text x="1222.3" y="432.2" font-size="8.4" fill="#fff" font-weight="bold" textLength="21.3" lengthAdjust="spacingAndGlyphs">86.999</text>
<rect x="1216.9" y="442.25" width="30" height="10" rx="0.8" fill="#000"/>
<text x="1222.3" y="450.25" font-size="8.4" fill="#fff" font-weight="bold" textLength="21.3" lengthAdjust="spacingAndGlyphs">84.653</text>
<rect x="1216.9" y="452.25" width="30" height="9.85" rx="0.8" fill="#000"/>
<text x="1222.3" y="460.18" font-size="8.4" fill="#fff" font-weight="bold" textLength="21.3" lengthAdjust="spacingAndGlyphs">84.374</text>
<rect x="1216.9" y="482.9" width="30" height="10" rx="0.8" fill="#000"/>
<text x="1222.3" y="490.9" font-size="8.4" fill="#fff" font-weight="bold" textLength="21.3" lengthAdjust="spacingAndGlyphs">79.355</text>
</g>
</svg>
</body></html>
